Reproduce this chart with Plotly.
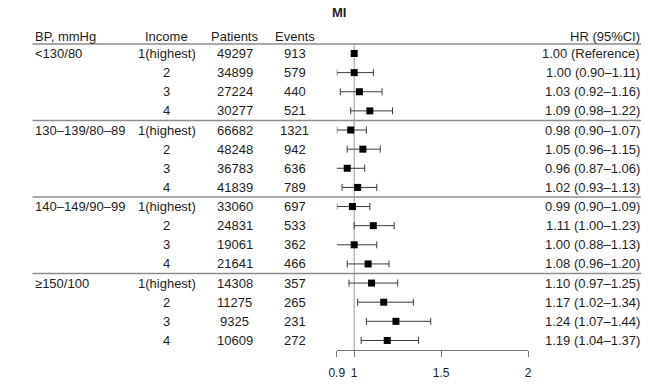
import plotly.graph_objects as go

# ---- data ----
bp_groups = ["<130/80", "130–139/80–89", "140–149/90–99", "≥150/100"]
income_levels = ["1(highest)", "2", "3", "4"]
patients = [49297, 34899, 27224, 30277,
            66682, 48248, 36783, 41839,
            33060, 24831, 19061, 21641,
            14308, 11275, 9325, 10609]
events = [913, 579, 440, 521,
          1321, 942, 636, 789,
          697, 533, 362, 466,
          357, 265, 231, 272]
hr = [1.00, 1.00, 1.03, 1.09,
      0.98, 1.05, 0.96, 1.02,
      0.99, 1.11, 1.00, 1.08,
      1.10, 1.17, 1.24, 1.19]
ci_low = [None, 0.90, 0.92, 0.98,
          0.90, 0.96, 0.87, 0.93,
          0.90, 1.00, 0.88, 0.96,
          0.97, 1.02, 1.07, 1.04]
ci_high = [None, 1.11, 1.16, 1.22,
           1.07, 1.15, 1.06, 1.13,
           1.09, 1.23, 1.13, 1.20,
           1.25, 1.34, 1.44, 1.37]
tick_vals = [0.9, 1, 1.5, 2]
tick_text = ["0.9", "1", "1.5", "2"]
title_text = "MI"
headers = ["BP, mmHg", "Income", "Patients", "Events", "HR (95%CI)"]

W, H = 647, 385
FONT = "Liberation Sans, Arial, sans-serif"
TXT = "#1e1e1e"
FS = 13

n = len(hr)
rows = list(range(n))

# row geometry (pixel y of row i = Y0 + DY*i)
Y0, DY = 53.5, 19.13
def row_of_px(py):
    return (py - Y0) / DY

def paper_x(px):
    return px / W

err_plus = [None if l is None else round(h2 - h, 4) for h, l, h2 in zip(hr, ci_low, ci_high)]
err_minus = [None if l is None else round(h - l, 4) for h, l in zip(hr, ci_low)]

fig = go.Figure()

# reference vertical line at HR = 1
fig.add_trace(go.Scatter(
    x=[1, 1], y=[-0.5, n - 0.5], mode="lines",
    line=dict(color="#9a9a9a", width=1), hoverinfo="skip", showlegend=False))

# HR points with CI
fig.add_trace(go.Scatter(
    x=hr, y=rows, mode="markers",
    marker=dict(symbol="square", size=7, color="#000000"),
    error_x=dict(type="data", symmetric=False, array=err_plus, arrayminus=err_minus,
                 color="#3a3a3a", thickness=1, width=3.5),
    showlegend=False, cliponaxis=False))

ann = []
def add_text(xpx, y, text, anchor, bold=False, size=FS):
    ann.append(dict(x=paper_x(xpx), y=y, xref="paper", yref="y",
                    text=("<b>%s</b>" % text) if bold else text,
                    showarrow=False, xanchor=anchor, yanchor="middle",
                    font=dict(family=FONT, size=size, color=TXT)))

# title
add_text(337, row_of_px(12), title_text, "center", bold=True)

# headers
hy = row_of_px(36)
add_text(25, hy, headers[0], "left")
add_text(162, hy, headers[1], "center")
add_text(231, hy, headers[2], "center")
add_text(292, hy, headers[3], "center")
add_text(646, hy, headers[4], "right")

for i in rows:
    g, k = divmod(i, 4)
    if k == 0:
        add_text(25, i, bp_groups[g], "left")
    add_text(162, i, income_levels[k], "center")
    add_text(231, i, str(patients[i]), "center")
    add_text(292, i, str(events[i]), "center")
    if ci_low[i] is None:
        t = "%.2f (Reference)" % hr[i]
    else:
        t = "%.2f (%.2f–%.2f)" % (hr[i], ci_low[i], ci_high[i])
    add_text(646, i, t, "right")

# separators
shapes = []
for yb in [-0.5, 3.5, 7.5, 11.5]:
    shapes.append(dict(type="line", xref="paper", yref="y", x0=paper_x(25), x1=paper_x(645),
                       y0=yb, y1=yb, line=dict(color="#8c8c8c", width=1.6), layer="below"))

axis_px = Y0 + DY * (n - 0.5)

fig.update_layout(
    width=W, height=H, autosize=False,
    margin=dict(l=0, r=0, t=0, b=0),
    paper_bgcolor="white", plot_bgcolor="white",
    annotations=ann, shapes=shapes,
    xaxis=dict(domain=[paper_x(335), paper_x(530)], range=[0.9, 2], anchor="free",
               position=1 - axis_px / H,
               showline=True, linecolor="#777777", linewidth=1,
               ticks="outside", ticklen=6, tickcolor="#777777", tickwidth=1,
               tickvals=tick_vals, ticktext=tick_text, ticklabelstandoff=6,
               tickfont=dict(family=FONT, size=12, color=TXT),
               showgrid=False, zeroline=False, fixedrange=True),
    yaxis=dict(domain=[0, 1], range=[row_of_px(H), row_of_px(0)], visible=False,
               showgrid=False, zeroline=False, fixedrange=True),
)

# remove the browser's default 8px body margin so the figure fills the window exactly
fig.write_html("out.html",
               config={"displayModeBar": False, "staticPlot": True},
               post_script="document.body.style.margin='0';document.body.style.overflow='hidden';")
